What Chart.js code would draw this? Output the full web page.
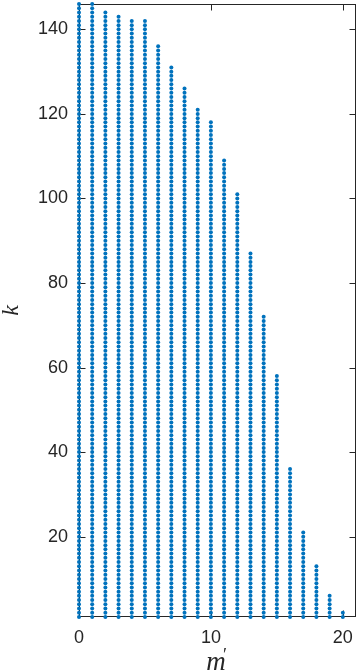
<!DOCTYPE html>
<html>
<head>
<meta charset="utf-8">
<script src="https://cdn.jsdelivr.net/npm/chart.js@4/dist/chart.umd.min.js"></script>
<style>
  html, body { margin: 0; padding: 0; background: #fff; }
  #wrap { width: 360px; height: 672px; }
</style>
</head>
<body>
<div id="wrap"><canvas id="chart" width="360" height="672"></canvas></div>
<script>
/* m' columns and the highest k reached in each one (k runs from 1 up). */
const M_PRIME = [0, 1, 2, 3, 4, 5, 6, 7, 8, 9, 10, 11, 12, 13, 14, 15, 16, 17, 18, 19, 20];
const K_MAX = [146, 146, 144, 143, 142, 142, 136, 131, 126, 121, 118, 109, 101, 87, 72, 58, 36, 21, 13, 6, 2];
const X_TICKS = [0, 10, 20];
const Y_TICKS = [20, 40, 60, 80, 100, 120, 140];

const AXIS_COLOR = "#262626";
const DOT_COLOR = "#0072BD";
const TICK_LEN = 6;

function buildPoints() {
  const pts = [];
  M_PRIME.forEach((m, i) => {
    for (let k = 1; k <= K_MAX[i]; k++) pts.push({ x: m, y: k });
  });
  return pts;
}

// box + inward tick marks, drawn under the dots like MATLAB's default layer
const frame = {
  id: "frame",
  beforeDatasetsDraw(chart) {
    const { ctx, chartArea: a, scales } = chart;
    const L = Math.round(a.left) + 0.5;
    const R = Math.round(a.right) - 0.5;
    const T = Math.round(a.top) + 0.5;
    const B = Math.round(a.bottom) - 0.5;
    ctx.save();
    ctx.strokeStyle = AXIS_COLOR;
    ctx.lineWidth = 1;
    ctx.strokeRect(L, T, R - L, B - T);
    ctx.beginPath();
    X_TICKS.forEach((v) => {
      const px = Math.round(scales.x.getPixelForValue(v)) + 0.5;
      ctx.moveTo(px, B); ctx.lineTo(px, B - TICK_LEN);
      ctx.moveTo(px, T); ctx.lineTo(px, T + TICK_LEN);
    });
    Y_TICKS.forEach((v) => {
      const py = Math.round(scales.y.getPixelForValue(v)) + 0.5;
      ctx.moveTo(L, py); ctx.lineTo(L + TICK_LEN, py);
      ctx.moveTo(R, py); ctx.lineTo(R - TICK_LEN, py);
    });
    ctx.stroke();
    ctx.restore();
  },
  afterDraw(chart) {
    const { ctx, chartArea: a } = chart;
    ctx.save();
    ctx.fillStyle = AXIS_COLOR;
    // y label "k"
    ctx.translate(18, (a.top + a.bottom) / 2);
    ctx.rotate(-Math.PI / 2);
    ctx.font = "italic 24px 'Liberation Serif'";
    ctx.textAlign = "center";
    ctx.textBaseline = "alphabetic";
    ctx.fillText("k", 0, 0);
    ctx.restore();

    ctx.save();
    ctx.fillStyle = AXIS_COLOR;
    ctx.font = "italic 27px 'Liberation Serif'";
    ctx.textAlign = "center";
    ctx.textBaseline = "alphabetic";
    ctx.fillText("m", 216, 670);
    ctx.font = "18px 'Liberation Serif'";
    ctx.textAlign = "left";
    ctx.fillText("\u2032", 223, 661);
    ctx.restore();
  },
};

function initChart() {
  const ctx = document.getElementById("chart").getContext("2d");
  new Chart(ctx, {
    type: "scatter",
    data: {
      datasets: [
        {
          data: buildPoints(),
          pointRadius: 2,
          pointBorderWidth: 0,
          pointBackgroundColor: DOT_COLOR,
          backgroundColor: DOT_COLOR,
          clip: false,
        },
      ],
    },
    options: {
      responsive: false,
      animation: false,
      events: [],
      layout: { padding: { left: 0, right: 2, top: 3, bottom: 0 } },
      plugins: { legend: { display: false }, tooltip: { enabled: false } },
      scales: {
        x: {
          type: "linear",
          min: 0,
          max: 21,
          grid: { display: false, drawTicks: false },
          border: { display: false },
          afterBuildTicks: (s) => { s.ticks = X_TICKS.map((v) => ({ value: v })); },
          afterFit: (s) => { s.height = 55; s.paddingLeft = 0; s.paddingRight = 0; },
          ticks: {
            padding: 10,
            maxRotation: 0,
            color: AXIS_COLOR,
            font: { family: "'Liberation Sans'", size: 18 },
          },
        },
        y: {
          type: "linear",
          min: 1,
          max: 146,
          grid: { display: false, drawTicks: false },
          border: { display: false },
          afterBuildTicks: (s) => { s.ticks = Y_TICKS.map((v) => ({ value: v })); },
          afterFit: (s) => { s.width = 79; s.paddingTop = 0; s.paddingBottom = 0; },
          ticks: {
            padding: 11,
            color: AXIS_COLOR,
            font: { family: "'Liberation Sans'", size: 18 },
          },
        },
      },
    },
    plugins: [frame],
  });
}

document.addEventListener("DOMContentLoaded", initChart);
</script>
</body>
</html>
